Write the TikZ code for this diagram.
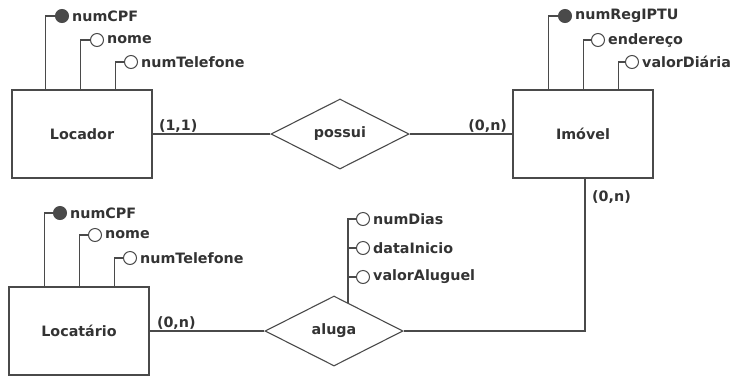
\documentclass[tikz,border=0pt]{standalone}
\usepackage{fontspec}
\setmainfont{DejaVu Sans}
\usepackage{tikz}
\usetikzlibrary{shapes.geometric, positioning, calc}
\definecolor{erline}{HTML}{4A4A4A}
\definecolor{ertext}{HTML}{333333}

\begin{document}
\begin{tikzpicture}[x=1pt, y=-1pt,
  every node/.style={font=\fontsize{14.3}{17}\selectfont\bfseries, text=ertext},
  entity/.style={rectangle, draw=erline, line width=1.6pt, minimum width=140pt,
                 minimum height=88pt, inner sep=0pt},
  relation/.style={diamond, draw=erline, line width=1.1pt, aspect=2,
                   minimum width=138pt, minimum height=70pt, inner sep=0pt},
  keyattr/.style={circle, draw=erline, fill=erline, line width=1pt,
                  minimum size=13pt, inner sep=0pt},
  attr/.style={circle, draw=erline, fill=white, line width=1pt,
               minimum size=13pt, inner sep=0pt},
  attrlabel/.style={inner sep=1pt},
  card/.style={inner sep=1pt},
  link/.style={draw=erline, line width=1.3pt}
]
  \useasboundingbox (0,0) rectangle (734,376);

  % entities
  \node[entity] (locador) at (82,134) {Locador};
  \node[entity] (imovel) at (583,134) {Imóvel};
  \node[entity] (locatario) at (79,331) {Locatário};

  % relationships
  \node[relation] (possui) at (340,134) {possui};
  \node[relation] (aluga) at (334,331) {aluga};

  % attributes of Locador
  \node[keyattr] (lcpf) at (62,16) {};
  \node[attr] (lnome) at (97,40) {};
  \node[attr] (ltel) at (131,62) {};
  \node[attrlabel, right=2pt of lcpf] (lcpflbl) {numCPF};
  \node[attrlabel, right=2pt of lnome] (lnomelbl) {nome};
  \node[attrlabel, right=2pt of ltel] (ltellbl) {numTelefone};
  \draw[link] (lcpf.west) -| ([xshift=34pt]locador.north west);
  \draw[link] (lnome.west) -| ([xshift=69pt]locador.north west);
  \draw[link] (ltel.west) -| ([xshift=104pt]locador.north west);

  % attributes of Imovel
  \node[keyattr] (iiptu) at (565,16) {};
  \node[attr] (iend) at (598,40) {};
  \node[attr] (ival) at (632,62) {};
  \node[attrlabel, right=2pt of iiptu] (iiptulbl) {numRegIPTU};
  \node[attrlabel, right=2pt of iend] (iendlbl) {endereço};
  \node[attrlabel, right=2pt of ival] (ivallbl) {valorDiária};
  \draw[link] (iiptu.west) -| ([xshift=36pt]imovel.north west);
  \draw[link] (iend.west) -| ([xshift=71pt]imovel.north west);
  \draw[link] (ival.west) -| ([xshift=106pt]imovel.north west);

  % attributes of Locatario
  \node[keyattr] (tcpf) at (60,213) {};
  \node[attr] (tnome) at (95,235) {};
  \node[attr] (ttel) at (130,258) {};
  \node[attrlabel, right=2pt of tcpf] (tcpflbl) {numCPF};
  \node[attrlabel, right=2pt of tnome] (tnomelbl) {nome};
  \node[attrlabel, right=2pt of ttel] (ttellbl) {numTelefone};
  \draw[link] (tcpf.west) -| ([xshift=36pt]locatario.north west);
  \draw[link] (tnome.west) -| ([xshift=71pt]locatario.north west);
  \draw[link] (ttel.west) -| ([xshift=106pt]locatario.north west);

  % attributes of aluga
  \node[attr] (adias) at (363,219) {};
  \node[attr] (adata) at (363,248) {};
  \node[attr] (avalor) at (363,277) {};
  \node[attrlabel, right=2pt of adias] (adiaslbl) {numDias};
  \node[attrlabel, right=2pt of adata] (adatalbl) {dataInicio};
  \node[attrlabel, right=2pt of avalor] (avalorlbl) {valorAluguel};
  \coordinate (abase) at ($(aluga.north)!0.2!(aluga.east)$);
  \draw[link] (abase) |- (adias.west);
  \draw[link] (abase) |- (adata.west);
  \draw[link] (abase) |- (avalor.west);

  % relationship lines
  \draw[link] (locador.east) -- (possui.west);
  \draw[link] (possui.east) -- (imovel.west);
  \draw[link] (locatario.east) -- (aluga.west);
  \draw[link] (aluga.east) -| ([xshift=2pt]imovel.south);

  % cardinalities
  \node[card, anchor=south west] (c11) at ([xshift=5pt]locador.east) {(1,1)};
  \node[card, anchor=south east] (c0n1) at ([xshift=-4pt]imovel.west) {(0,n)};
  \node[card, anchor=south west] (c0n2) at ([xshift=6pt]locatario.east) {(0,n)};
  \node[card, anchor=north west] (c0n3) at ([xshift=8pt,yshift=-11pt]imovel.south) {(0,n)};
\end{tikzpicture}
\end{document}
